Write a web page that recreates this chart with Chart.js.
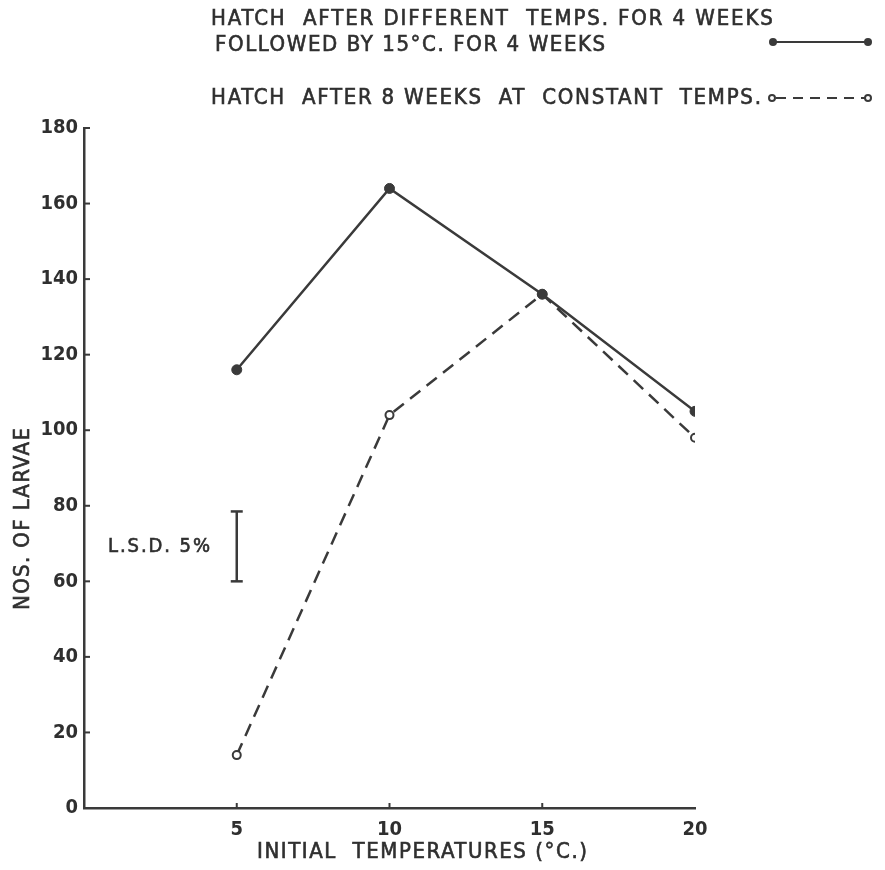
<!DOCTYPE html>
<html>
<head>
<meta charset="utf-8">
<title>Larval hatch and initial temperature</title>
<script src="https://cdn.jsdelivr.net/npm/chart.js@4/dist/chart.umd.min.js"></script>
<style>
  html, body { margin: 0; padding: 0; background: #ffffff; }
  #wrap { width: 885px; height: 870px; }
</style>
</head>
<body>
<div id="wrap"><canvas id="chart" width="885" height="870"></canvas></div>
<script>
// Initial temperatures (°C) and numbers of larvae hatched
const temps = [5, 10, 15, 20];
const larvaeThen15C = [116, 164, 136, 105];   // 4 weeks at temp, then 4 weeks at 15°C
const larvaeConstant = [14, 104, 136, 98];    // 8 weeks at constant temp
const xTickValues = [5, 10, 15, 20];
const yMax = 180;
const yStep = 20;

// Least significant difference (5%) bar
const lsdTemp = 5;
const lsdRange = [60, 78.5];

// Text
const legendSolidLines = ['HATCH  AFTER DIFFERENT  TEMPS. FOR 4 WEEKS', 'FOLLOWED BY 15°C. FOR 4 WEEKS'];
const legendDashedLine = 'HATCH  AFTER 8 WEEKS  AT  CONSTANT  TEMPS.';
const xTitle = 'INITIAL  TEMPERATURES (°C.)';
const yTitle = 'NOS. OF LARVAE';
const lsdLabel = 'L.S.D. 5%';

const INK = '#3a3a3a';
const TEXT = '#2f2f2f';
const FONT = '"DejaVu Sans Condensed", "DejaVu Sans", sans-serif';

const toPoints = (xs, ys) => xs.map((x, i) => ({ x, y: ys[i] }));

// Draw text spread out to a given width (letter spacing), left edge at x
function spacedText(ctx, text, x, y, width) {
  ctx.save();
  ctx.textAlign = 'left';
  ctx.textBaseline = 'middle';
  ctx.strokeStyle = ctx.fillStyle;
  ctx.lineWidth = 0.6;
  if ('letterSpacing' in ctx) {
    ctx.letterSpacing = '0px';
    const w = ctx.measureText(text).width;
    const sp = (width - w) / Math.max(1, text.length - 1);
    ctx.letterSpacing = sp.toFixed(2) + 'px';
    ctx.fillText(text, x, y);
    ctx.strokeText(text, x, y);
  } else {
    const w = ctx.measureText(text).width;
    ctx.translate(x, y);
    ctx.scale(width / w, 1);
    ctx.fillText(text, 0, 0);
  }
  ctx.restore();
}

const decorations = {
  id: 'decorations',
  afterDraw(chart) {
    const { ctx, scales: { x, y }, chartArea } = chart;
    ctx.save();
    ctx.strokeStyle = INK;
    ctx.fillStyle = TEXT;
    ctx.lineWidth = 2;

    // inward tick marks on the y axis
    for (let v = yStep; v <= yMax; v += yStep) {
      const py = y.getPixelForValue(v);
      ctx.beginPath();
      ctx.moveTo(chartArea.left, py);
      ctx.lineTo(chartArea.left + 6, py);
      ctx.stroke();
    }
    // inward tick marks on the x axis
    xTickValues.slice(0, -1).forEach(v => {
      const px = x.getPixelForValue(v);
      ctx.beginPath();
      ctx.moveTo(px, chartArea.bottom);
      ctx.lineTo(px, chartArea.bottom - 5);
      ctx.stroke();
    });

    // legend
    ctx.fillStyle = TEXT;
    ctx.font = '22px ' + FONT;
    spacedText(ctx, legendSolidLines[0], 211, 19, 562);
    spacedText(ctx, legendSolidLines[1], 215, 45, 390);
    spacedText(ctx, legendDashedLine, 211, 98, 550);

    // legend samples
    ctx.strokeStyle = INK;
    ctx.lineWidth = 2;
    ctx.beginPath();
    ctx.moveTo(773, 42); ctx.lineTo(868, 42);
    ctx.stroke();
    [773, 868].forEach(cx => {
      ctx.beginPath(); ctx.arc(cx, 42, 4, 0, Math.PI * 2); ctx.fillStyle = INK; ctx.fill();
    });
    ctx.setLineDash([10, 7]);
    ctx.beginPath();
    ctx.moveTo(776, 98); ctx.lineTo(865, 98);
    ctx.stroke();
    ctx.setLineDash([]);
    [772, 868].forEach(cx => {
      ctx.beginPath(); ctx.arc(cx, 98, 3, 0, Math.PI * 2);
      ctx.fillStyle = '#fff'; ctx.fill(); ctx.stroke();
    });

    // axis titles
    ctx.fillStyle = TEXT;
    ctx.font = '22px ' + FONT;
    spacedText(ctx, xTitle, 257, 852, 330);
    ctx.save();
    ctx.translate(23, 610);
    ctx.rotate(-Math.PI / 2);
    spacedText(ctx, yTitle, 0, 0, 182);
    ctx.restore();

    // L.S.D. label beside its bar
    ctx.font = '20px ' + FONT;
    const ly = y.getPixelForValue((lsdRange[0] + lsdRange[1]) / 2);
    spacedText(ctx, lsdLabel, 108, ly, 102);

    ctx.restore();
  }
};

new Chart(document.getElementById('chart'), {
  type: 'scatter',
  data: {
    datasets: [
      {
        label: legendSolidLines.join(' '),
        data: toPoints(temps, larvaeThen15C),
        showLine: true,
        borderColor: INK,
        borderWidth: 2.5,
        pointRadius: 5,
        pointBackgroundColor: INK,
        pointBorderColor: INK,
        pointBorderWidth: 1
      },
      {
        label: legendDashedLine,
        data: toPoints(temps, larvaeConstant),
        showLine: true,
        borderColor: INK,
        borderWidth: 2.5,
        borderDash: [13, 8],
        pointRadius: 4,
        pointBackgroundColor: '#ffffff',
        pointBorderColor: INK,
        pointBorderWidth: 2
      },
      {
        label: lsdLabel,
        data: lsdRange.map(v => ({ x: lsdTemp, y: v })),
        showLine: true,
        borderColor: INK,
        borderWidth: 2.5,
        pointStyle: 'line',
        pointRadius: 6,
        pointBorderColor: INK,
        pointBorderWidth: 2.5
      }
    ]
  },
  options: {
    responsive: false,
    animation: false,
    devicePixelRatio: 1,
    layout: { padding: { top: 128, right: 190, left: 0, bottom: 0 } },
    plugins: { legend: { display: false }, tooltip: { enabled: false } },
    scales: {
      x: {
        type: 'linear',
        min: 0,
        max: 20,
        afterBuildTicks(scale) { scale.ticks = xTickValues.map(v => ({ value: v })); },
        afterFit(scale) { scale.height = 62; },
        grid: { drawOnChartArea: false, drawTicks: false },
        border: { color: INK, width: 2.5 },
        ticks: { color: TEXT, padding: 10, font: { family: FONT, size: 20, weight: 'bold' } }
      },
      y: {
        min: 0,
        max: yMax,
        afterFit(scale) { scale.width = 84; },
        grid: { drawOnChartArea: false, drawTicks: false },
        border: { color: INK, width: 2.5 },
        ticks: { stepSize: yStep, color: TEXT, padding: 6, font: { family: FONT, size: 20, weight: 'bold' } }
      }
    }
  },
  plugins: [decorations]
});
</script>
</body>
</html>
